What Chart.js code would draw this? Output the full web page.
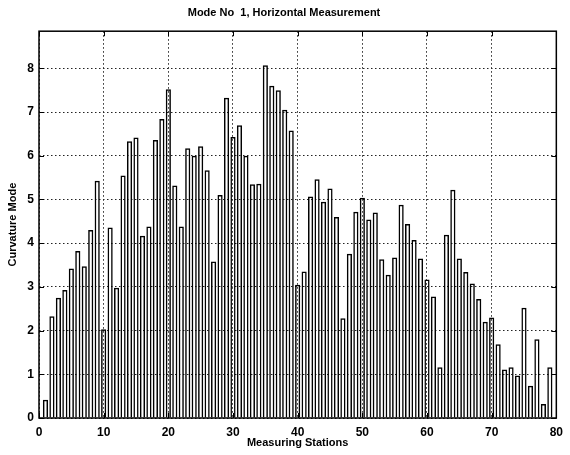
<!DOCTYPE html>
<html>
  <head>
    <meta charset="utf-8">
    <style>
      html, body { margin: 0; padding: 0; background: #fff; }
      #wrap { width: 570px; height: 455px; }
    </style>
  </head>
  <body>
    <div id="wrap">
      <canvas id="modeChart" width="570" height="455"></canvas>
    </div>

    <script src="https://cdn.jsdelivr.net/npm/chart.js@4.4.0/dist/chart.umd.min.js"></script>

    <script>
      // measuring stations (x) and curvature mode values (y)
      var stations = [1, 2, 3, 4, 5, 6, 7, 8, 9, 10,
                      11, 12, 13, 14, 15, 16, 17, 18, 19, 20,
                      21, 22, 23, 24, 25, 26, 27, 28, 29, 30,
                      31, 32, 33, 34, 35, 36, 37, 38, 39, 40,
                      41, 42, 43, 44, 45, 46, 47, 48, 49, 50,
                      51, 52, 53, 54, 55, 56, 57, 58, 59, 60,
                      61, 62, 63, 64, 65, 66, 67, 68, 69, 70,
                      71, 72, 73, 74, 75, 76, 77, 78, 79];
      var curvature = [0.42, 2.33, 2.75, 2.93, 3.42, 3.82, 3.47, 4.30, 5.43, 2.03,
                       4.36, 2.98, 5.55, 6.33, 6.42, 4.17, 4.38, 6.36, 6.84, 7.52,
                       5.32, 4.38, 6.17, 6.00, 6.22, 5.67, 3.58, 5.10, 7.33, 6.43,
                       6.70, 6.00, 5.35, 5.36, 8.07, 7.60, 7.50, 7.05, 6.58, 3.05,
                       3.35, 5.07, 5.46, 4.95, 5.25, 4.60, 2.28, 3.76, 4.72, 5.04,
                       4.54, 4.70, 3.63, 3.28, 3.67, 4.88, 4.44, 4.07, 3.65, 3.17,
                       2.78, 1.16, 4.19, 5.22, 3.65, 3.34, 3.08, 2.72, 2.20, 2.30,
                       1.69, 1.11, 1.16, 0.97, 2.52, 0.74, 1.80, 0.32, 1.16];
      var xTicks = [0, 10, 20, 30, 40, 50, 60, 70, 80];
      var yTicks = [0, 1, 2, 3, 4, 5, 6, 7, 8];

      var points = [];
      stations.forEach(function (s, i) {
        points.push({ x: s, y: curvature[i] });
      });

      // box round the plot with inward ticks, like the matlab axes
      var frame = {
        id: 'frame',
        afterDatasetsDraw: function (chart) {
          var c = chart.ctx, a = chart.chartArea;
          var xs = chart.scales.x, ys = chart.scales.y;
          c.save();
          c.strokeStyle = '#000';
          c.lineWidth = 1.5;
          c.strokeRect(a.left, a.top, a.right - a.left, a.bottom - a.top);
          c.lineWidth = 1;
          c.beginPath();
          xTicks.forEach(function (t) {
            var px = Math.round(xs.getPixelForValue(t)) + 0.5;
            c.moveTo(px, a.bottom); c.lineTo(px, a.bottom - 5);
            c.moveTo(px, a.top); c.lineTo(px, a.top + 5);
          });
          yTicks.forEach(function (t) {
            var py = Math.round(ys.getPixelForValue(t)) + 0.5;
            c.moveTo(a.left, py); c.lineTo(a.left + 5, py);
            c.moveTo(a.right, py); c.lineTo(a.right - 5, py);
          });
          c.stroke();
          c.restore();
        }
      };

      Chart.defaults.color = '#000';
      Chart.defaults.font.family = '"Liberation Sans", Arial, sans-serif';

      var ctx = document.getElementById('modeChart').getContext('2d');
      var modeChart = new Chart(ctx, {
        type: 'bar',
        data: {
          datasets: [{
            label: 'Curvature Mode',
            data: points,
            backgroundColor: 'rgba(255, 255, 255, 0)',
            borderColor: '#000',
            borderWidth: 1.5,
            barPercentage: 0.8,
            categoryPercentage: 1.0
          }]
        },
        options: {
          responsive: false,
          animation: false,
          layout: { padding: { left: 4, right: 6, top: 0, bottom: 0 } },
          scales: {
            x: {
              type: 'linear',
              min: 0,
              max: 80,
              offset: false,
              afterFit: function (s) { s.height = 37; },
              afterBuildTicks: function (s) {
                s.ticks = xTicks.map(function (v) { return { value: v }; });
              },
              ticks: { padding: 7, font: { size: 12, weight: 'bold' }, maxRotation: 0 },
              grid: { offset: false, drawTicks: false, color: '#222', lineWidth: 1 },
              border: { display: false, dash: [1.5, 2.5] },
              title: {
                display: true,
                text: 'Measuring Stations',
                font: { size: 11, weight: 'bold' },
                padding: { top: 0, bottom: 5 }
              }
            },
            y: {
              min: 0,
              max: 8.85,
              afterFit: function (s) { s.width = 35; },
              afterBuildTicks: function (s) {
                s.ticks = yTicks.map(function (v) { return { value: v }; });
              },
              ticks: { padding: 5, font: { size: 12, weight: 'bold' } },
              grid: { drawTicks: false, color: '#222', lineWidth: 1 },
              border: { display: false, dash: [1.5, 2.5] },
              title: {
                display: true,
                text: 'Curvature Mode',
                font: { size: 11, weight: 'bold' },
                padding: { top: 2, bottom: 0 }
              }
            }
          },
          plugins: {
            legend: { display: false },
            tooltip: { enabled: false },
            title: {
              display: true,
              text: 'Mode No  1, Horizontal Measurement',
              font: { size: 11, weight: 'bold' },
              padding: { top: 6, bottom: 12 }
            }
          }
        },
        plugins: [frame]
      });
    </script>
  </body>
</html>
